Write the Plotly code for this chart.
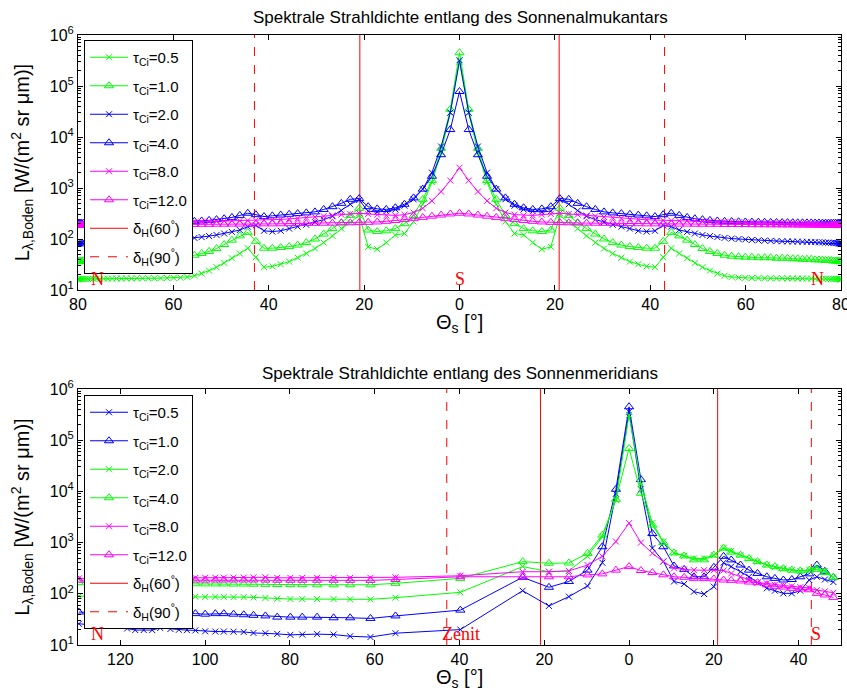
import plotly.graph_objects as go

# ---------------- data ----------------
# Almucantar: scattering angle grid (one side, 0 .. 80 deg); profile is symmetric about the sun
THETA_ALM = [0, 1.93, 3.86, 5.78, 7.70, 9.63, 11.54, 13.45, 15.36, 17.26, 19.15, 21.04, 22.91, 24.78,
             26.64, 28.48, 30.31, 32.13, 33.94, 35.72, 37.49, 39.25, 40.99, 42.70, 44.40, 46.07, 47.73,
             49.35, 50.95, 52.52, 54.07, 55.58, 57.07, 58.52, 59.94, 61.32, 62.67, 63.98, 65.25, 66.48,
             67.66, 68.79, 69.88, 70.92, 71.92, 72.86, 73.75, 74.59, 75.38, 76.10, 76.77, 77.38, 77.93,
             78.42, 78.84, 79.20, 79.49, 79.72, 79.89, 79.98, 80.0]

ALM_TAU05 = [3.0e5, 3.0e4, 5.0e3, 1.3e3, 480, 220, 128, 120, 85, 63, 70, 290, 210, 160, 115, 85, 65, 52,
             43, 36, 32, 29, 28, 44, 66, 52, 42, 34, 28, 24, 21, 19, 18,
             17.5, 17.3, 17.2, 17.1, 17, 17, 17, 17, 16.9, 16.9, 16.8, 16.8, 16.8, 16.7, 16.7, 16.6, 16.6,
             16.6, 16.5, 16.5, 16.5, 16.4, 16.4, 16.4, 16.3, 16.3, 16.3, 16.2]
ALM_TAU10 = [4.5e5, 3.5e4, 6.0e3, 1.4e3, 600, 290, 200, 160, 145, 140, 150, 400, 290, 210, 160, 125, 100,
             85, 76, 71, 68, 66, 66, 90, 135, 115, 95, 78, 65, 57, 52, 48, 46, 45,
             44, 44, 43, 43, 43, 42, 42, 42, 41, 41, 40, 40, 40, 39, 39, 39, 38, 38, 38, 37, 37, 37, 37,
             36, 36, 36, 36]
ALM_TAU20 = [3.2e5, 3.0e4, 6.5e3, 2.0e3, 950, 600, 450, 380, 350, 340, 350, 580, 480, 360, 280, 240, 215,
             190, 175, 160, 145, 140, 145, 185, 175, 150, 138, 128, 120, 114, 109, 105, 102, 100, 98, 96,
             94, 93, 92, 91, 90, 90, 89, 89, 88, 88, 87, 87, 86, 86, 85, 85, 84, 84, 83, 83, 82, 82, 81,
             81, 80]
ALM_TAU40 = [7.8e4, 1.4e4, 4.5e3, 1.7e3, 950, 640, 480, 410, 380, 390, 430, 620, 600, 500, 430, 380, 340,
             325, 315, 305, 295, 285, 275, 300, 320, 290, 265, 250, 240, 232, 226, 222, 220,
             218, 216, 215, 214, 213, 212, 211, 210, 210, 209, 208, 208, 207, 207, 206, 206, 205, 205,
             205, 204, 204, 204, 203, 203, 203, 203, 203, 203]
ALM_TAU80 = [2.5e3, 1.4e3, 850, 560, 400, 330, 300, 290, 290, 300, 310, 320, 310, 300, 290, 280, 270, 262,
             255, 248, 242, 238, 235, 232, 230,
             228, 226, 224, 222, 220, 218, 216, 214, 212, 210, 208, 206, 205, 204, 203, 202, 201, 200, 199,
             198, 197, 196, 196, 195, 195, 194, 194, 193, 193, 192, 192, 191, 191, 190, 190, 190]
ALM_TAU120 = [320, 310, 295, 280, 265, 250, 240, 230, 222, 216, 212, 210, 208, 206, 205, 204, 203, 202,
              201, 200, 199, 198, 198, 197, 197,
              196, 196, 195, 195, 194, 194, 193, 193, 192, 192, 191, 191, 190, 190, 190, 189, 189, 189,
              188, 188, 188, 187, 187, 187, 186, 186, 186, 186, 185, 185, 185, 185, 185, 185, 185, 185]

# Meridian: scattering angle, positive = north side of the sun, negative = south side
THETA_MER = [129.8, 127.5, 125.3, 123.3, 121.7, 120.0, 118.4, 116.5, 114.5, 112.5, 110.6, 108.2, 106.2,
             104.3, 102.3, 100.0, 97.6, 95.6, 93.3, 90.9, 88.6, 85.8, 83.0, 79.9, 77.1, 73.6, 69.7, 65.8,
             61.0, 55.1, 39.8, 25.1, 18.9, 14.2, 9.8, 6.3, 3.1, 0.0, -2.8, -5.5, -8.1, -10.6, -13.0,
             -15.3, -17.7, -20.0, -22.3, -24.1, -26.3, -28.3, -30.3, -32.5, -34.4, -36.4, -38.4, -40.4,
             -42.5, -44.3, -46.2, -48.2]

MER_TAU05 = [26, 25, 24, 24, 23.5, 23.5, 21, 19.6, 19.6, 19.6, 21.5, 20.5, 19.8, 19.5, 19.3, 18.5, 18.3,
             18.3, 18.2, 18, 17.2, 17, 16.5, 15.8, 16, 16.3, 16, 14.8, 14.3, 17, 20,
             115, 58, 88, 142, 405, 9.0e3, 3.6e5, 1.1e4, 780, 430, 174, 156, 110, 99, 138, 405, 340, 270,
             215, 165, 128, 115, 102, 102, 115, 186, 215, 190, 170]
MER_TAU10 = [44, 43, 43, 42, 42, 42, 42, 41, 41, 41, 42, 42, 41, 41, 41, 40, 41, 41, 40, 39, 38, 37, 35,
             35, 35, 35, 34, 34, 33, 37, 48,
             210, 134, 174, 290, 830, 1.1e4, 4.5e5, 1.7e4, 1.5e3, 830, 350, 300, 215, 215, 330, 540, 460,
             365, 290, 250, 215, 200, 186, 190, 215, 245, 365, 275, 210]
MER_TAU20 = [90, 89, 89, 88, 88, 88, 88, 88, 88, 88, 88, 88, 88, 88, 88, 87, 87, 87, 86, 86, 85, 83, 80,
             79, 79, 79, 79, 78, 78, 84, 107,
             340, 270, 280, 540, 1.3e3, 6.8e3, 3.1e5, 1.4e4, 2.4e3, 1.05e3, 630, 550, 490, 490, 570, 780,
             690, 570, 490, 425, 365, 330, 310, 290, 280, 295, 330, 280, 210]
MER_TAU40 = [165, 165, 162, 162, 160, 160, 160, 160, 160, 158, 158, 158, 158, 157, 157, 156, 156, 156, 155,
             155, 154, 153, 152, 151, 151, 150, 150, 150, 150, 160, 200,
             425, 395, 400, 615, 1.4e3, 7.0e3, 6.9e4, 9.2e3, 2.2e3, 1.0e3, 630, 550, 460, 460, 570, 780,
             650, 570, 490, 425, 365, 340, 310, 290, 280, 290, 300, 260, 210]
MER_TAU80 = [200, 198, 198, 196, 196, 198, 196, 198, 200, 200, 202, 202, 203, 205, 205, 206, 206, 206, 207,
             207, 210, 210, 205, 205, 205, 205, 205, 205, 205, 210, 225,
             270, 270, 280, 365, 540, 1.05e3, 2.4e3, 1.0e3, 620, 425, 315, 300, 290, 290, 290, 285, 250,
             215, 186, 165, 160, 150, 145, 140, 135, 130, 118, 112, 105]
MER_TAU120 = [185, 185, 185, 185, 185, 185, 184, 185, 186, 186, 187, 186, 186, 186, 185, 185, 186, 186,
              186, 186, 186, 185, 184, 184, 184, 184, 184, 183, 183, 190, 215,
              215, 215, 215, 234, 245, 290, 340, 285, 260, 235, 215, 210, 200, 198, 195, 186, 183, 178,
              170, 165, 150, 140, 135, 128, 124, 120, 102, 95, 85]

TAU_LABELS = ["0.5", "1.0", "2.0", "4.0", "8.0", "12.0"]
HALO_60 = 20.9   # deg
HALO_90 = 43.0   # deg

X_TICKS_TOP = [-80, -60, -40, -20, 0, 20, 40, 60, 80]
X_TICKS_BOT = [120, 100, 80, 60, 40, 20, 0, -20, -40]
Y_EXPONENTS = [1, 2, 3, 4, 5, 6]

# ---------------- styles ----------------
GREEN, BLUE, MAG, RED = "#00ff00", "#0000ff", "#ff00ff", "#ff0000"
FONT = "Liberation Sans, Arial, Helvetica, sans-serif"
SERIF = "Liberation Serif, Times New Roman, serif"
W, H = 847, 690
ML, MR = 78, 6
PW = W - ML - MR

def px(xpix):
    return (xpix - ML) / PW

def py(ypix):
    return 1 - ypix / H

def mirror(half):
    return list(reversed(half[1:])) + list(half)

alm_x = [-t for t in reversed(THETA_ALM[1:])] + THETA_ALM
alm_series = [ALM_TAU05, ALM_TAU10, ALM_TAU20, ALM_TAU40, ALM_TAU80, ALM_TAU120]
mer_series = [MER_TAU05, MER_TAU10, MER_TAU20, MER_TAU40, MER_TAU80, MER_TAU120]
top_colors = [GREEN, GREEN, BLUE, BLUE, MAG, MAG]
bot_colors = [BLUE, BLUE, GREEN, GREEN, MAG, MAG]
symbols = ["x-thin-open", "triangle-up-open"] * 3
sizes = [6, 8] * 3

fig = go.Figure()

def add_series(xs, ys, color, sym, size, name, xa, ya, leg, grp):
    fig.add_trace(go.Scatter(
        x=xs, y=ys, mode="lines+markers", name=name,
        line=dict(color=color, width=1),
        marker=dict(symbol=sym, size=size, color=color, line=dict(color=color, width=1)),
        xaxis=xa, yaxis=ya, legend=leg, legendgroup=grp))

for i in range(6):
    add_series(alm_x, mirror(alm_series[i]), top_colors[i], symbols[i], sizes[i],
               f"τ<sub>Ci</sub>={TAU_LABELS[i]}", "x", "y", "legend", f"a{i}")
for i in range(6):
    add_series(THETA_MER, mer_series[i], bot_colors[i], symbols[i], sizes[i],
               f"τ<sub>Ci</sub>={TAU_LABELS[i]}", "x2", "y2", "legend2", f"b{i}")

# legend entries for the halo lines
for leg, xa, ya, p in [("legend", "x", "y", "a"), ("legend2", "x2", "y2", "b")]:
    fig.add_trace(go.Scatter(x=[None], y=[None], mode="lines", name="δ<sub>H</sub>(60<sup>°</sup>)",
                             line=dict(color=RED, width=1), xaxis=xa, yaxis=ya, legend=leg,
                             legendgroup=p + "6"))
    fig.add_trace(go.Scatter(x=[None], y=[None], mode="lines", name="δ<sub>H</sub>(90<sup>°</sup>)",
                             line=dict(color=RED, width=1, dash="dash"), xaxis=xa, yaxis=ya, legend=leg,
                             legendgroup=p + "7"))

# halo lines
for xa, ya in [("x", "y"), ("x2", "y2")]:
    for ang, dash in [(HALO_60, "solid"), (HALO_90, "dash")]:
        for sgn in (-1, 1):
            fig.add_shape(type="line", xref=xa, yref=f"{ya} domain", x0=sgn * ang, x1=sgn * ang,
                          y0=0, y1=1, line=dict(color=RED, width=1, dash=dash), layer="below")

# direction labels
labels = [("x", "y", -76, "N"), ("x", "y", 0, "S"), ("x", "y", 75, "N"),
          ("x2", "y2", 125.4, "N"), ("x2", "y2", 39.7, "Zenit"), ("x2", "y2", -44.2, "S")]
for xa, ya, xv, txt in labels:
    fig.add_annotation(x=xv, y=0, xref=xa, yref=f"{ya} domain", text=txt, showarrow=False,
                       yanchor="bottom", yshift=-1, font=dict(family=SERIF, size=18, color=RED))

# titles and axis titles
texts = [
    (460, 18, "Spektrale Strahldichte entlang des Sonnenalmukantars", 17),
    (460, 373, "Spektrale Strahldichte entlang des Sonnenmeridians", 17),
    (459, 324, "Θ<sub>s</sub> [°]", 20),
    (459, 678, "Θ<sub>s</sub> [°]", 20),
]
for xp, yp, txt, fs in texts:
    fig.add_annotation(x=px(xp), y=py(yp), xref="paper", yref="paper", showarrow=False,
                       xanchor="center", yanchor="middle", text=txt,
                       font=dict(family=FONT, size=fs, color="black"))

minor_vals = [m * 10 ** e for e in Y_EXPONENTS[:-1] for m in range(2, 10)]
yaxis_common = dict(type="log", range=[1, 6], tickmode="array", automargin=False,
                    tickvals=[10 ** e for e in Y_EXPONENTS],
                    ticktext=[f"10<sup>{e}</sup>" for e in Y_EXPONENTS],
                    ticks="inside", ticklen=5, tickcolor="black", mirror="ticks", showline=True,
                    linecolor="black", linewidth=1, showgrid=False, zeroline=False,
                    tickfont=dict(family=FONT, size=16, color="black"),
                    minor=dict(ticks="inside", ticklen=3, tickcolor="black", tickmode="array",
                               tickvals=minor_vals, showgrid=False),
                    title=dict(text="L<sub>λ,Boden</sub> [W/(m<sup>2</sup> sr μm)]",
                               font=dict(family=FONT, size=20, color="black"), standoff=14))
xaxis_common = dict(ticks="inside", ticklen=5, tickcolor="black", mirror="ticks", showline=True,
                    linecolor="black", linewidth=1, showgrid=False, zeroline=False, automargin=False,
                    ticklabeloverflow="allow",
                    tickfont=dict(family=FONT, size=16, color="black"))

legend_common = dict(xanchor="left", yanchor="top", bgcolor="white", bordercolor="black",
                     borderwidth=1, font=dict(family=FONT, size=15, color="black"), itemwidth=38,
                     traceorder="grouped", tracegroupgap=6)

fig.update_layout(
    width=W, height=H, plot_bgcolor="white", paper_bgcolor="white",
    margin=dict(l=ML, r=MR, t=0, b=0, autoexpand=False),
    font=dict(family=FONT, color="black"),
    xaxis=dict(xaxis_common, domain=[0, 1], anchor="y", range=[-80, 80], tickmode="array",
               tickvals=X_TICKS_TOP, ticktext=[str(abs(v)) for v in X_TICKS_TOP]),
    yaxis=dict(yaxis_common, domain=[py(290), py(35)], anchor="x"),
    xaxis2=dict(xaxis_common, domain=[0, 1], anchor="y2", range=[130, -50], tickmode="array",
                tickvals=X_TICKS_BOT, ticktext=[str(abs(v)) for v in X_TICKS_BOT]),
    yaxis2=dict(yaxis_common, domain=[py(645), py(389)], anchor="x2"),
    legend=dict(legend_common, x=px(84), y=py(40)),
    legend2=dict(legend_common, x=px(84), y=py(395)),
    showlegend=True,
)

fig.write_html("out.html", config={"displayModeBar": False},
               post_script="document.body.style.margin='0';document.body.style.overflow='hidden';")
